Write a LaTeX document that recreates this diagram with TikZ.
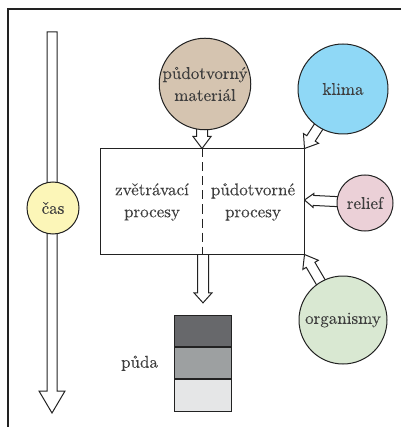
\documentclass[tikz,border=0pt]{standalone}
\usepackage{fontspec}
\setmainfont{lmroman10-regular}[Extension=.otf, FakeBold=0.2]
\usetikzlibrary{calc}
\pgfdeclarelayer{bg}
\pgfsetlayers{bg,main}

\definecolor{inkline}{HTML}{222222}
\definecolor{inktext}{HTML}{3E3E3E}
\definecolor{cmaterial}{HTML}{D5C4B0}
\definecolor{cklima}{HTML}{8FD8F6}
\definecolor{ccas}{HTML}{FCF6B8}
\definecolor{crelief}{HTML}{EBD0D7}
\definecolor{corg}{HTML}{D9E8D2}
\definecolor{soilA}{HTML}{67686B}
\definecolor{soilB}{HTML}{9DA0A1}
\definecolor{soilC}{HTML}{E5E6E7}

% hollow block arrow: #1 start, #2 tip, #3 shaft half-width, #4 head half-width, #5 head length
\newcommand{\blockarrow}[5]{%
  \coordinate (ba-s) at (#1);
  \coordinate (ba-t) at (#2);
  \coordinate (ba-b) at ($(ba-t)!#5!(ba-s)$);
  \draw[arrowline]
    ($(ba-s)!#3!90:(ba-t)$) -- ($(ba-b)!#3!-90:(ba-s)$) -- ($(ba-b)!#4!-90:(ba-s)$)
    -- (ba-t)
    -- ($(ba-b)!#4!90:(ba-s)$) -- ($(ba-b)!#3!90:(ba-s)$) -- ($(ba-s)!#3!-90:(ba-t)$) -- cycle;
}

\begin{document}
\begin{tikzpicture}[x=1pt,y=-1pt,
  every node/.style={font=\fontsize{17}{22}\selectfont, text=inktext, align=center},
  factor/.style={circle, draw=inkline, line width=1pt, inner sep=0pt},
  arrowline/.style={draw=inkline, fill=white, line width=1pt, line join=miter},
  soillayer/.style={draw=inkline, line width=1pt, minimum width=57pt, minimum height=31.3pt, inner sep=0pt},
]
\useasboundingbox (0,0) rectangle (401,427);

% frame
\draw[inkline, line width=1.1pt] (401,9) -- (8,9) -- (8,427);

% factors
\node[factor, fill=cmaterial, minimum size=90pt] (mat) at (205,84) {půdotvorný\\materiál};
\node[factor, fill=cklima, minimum size=90pt] (klima) at (343,89) {klima};
\node[factor, fill=ccas, minimum size=52pt] (cas) at (53,208) {čas};
\node[factor, fill=crelief, minimum size=56pt] (relief) at (365,203) {relief};
\node[factor, fill=corg, minimum size=88pt] (org) at (343,320) {organismy};

% processes box
\node[draw=inkline, fill=white, line width=1pt, minimum width=204pt, minimum height=105pt, inner sep=0pt] (proc) at (202,201.5) {};
\draw[inkline, line width=1pt, dash pattern=on 9pt off 5pt] (proc.north) -- (proc.south);
\node (weath) at (152,202) {zvětrávací\\procesy};
\node (pedo) at (253,202) {půdotvorné\\procesy};

% soil profile
\node[soillayer, fill=soilA] (s1) at (202.5,331) {};
\node[soillayer, fill=soilB, anchor=north] (s2) at (s1.south) {};
\node[soillayer, fill=soilC, anchor=north] (s3) at (s2.south) {};
\node[anchor=east] (puda) at ($(s2.west)+(-12pt,0)$) {půda};

% time axis
\coordinate (ttop) at (52,32);
\coordinate (tend) at (52,413);

\begin{pgfonlayer}{bg}
  \blockarrow{ttop}{tend}{5pt}{13pt}{22pt}
  \blockarrow{$(mat.center -| proc.north)$}{proc.north}{5.5pt}{9pt}{12pt}
  \blockarrow{klima.center}{proc.north east}{5pt}{9pt}{12pt}
  \blockarrow{relief.center}{$(proc.east |- relief.center)+(0,3pt)$}{5pt}{7pt}{9pt}
  \blockarrow{org.center}{proc.south east}{5pt}{9pt}{12pt}
  \blockarrow{$(proc.center)+(1pt,0)$}{$(s1.north)+(0.5pt,12pt)$}{5.5pt}{9pt}{10pt}
\end{pgfonlayer}
\end{tikzpicture}
\end{document}
